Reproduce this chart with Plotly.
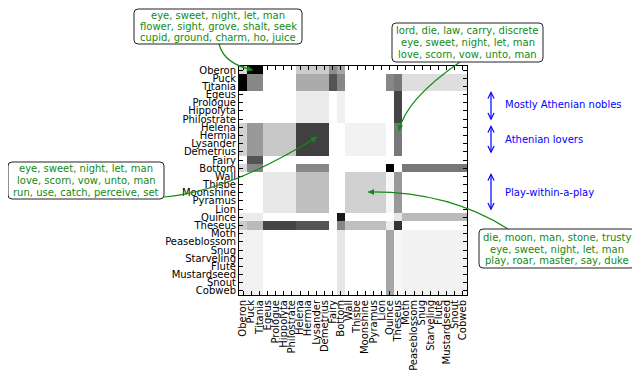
"""Character co-occurrence block matrix for A Midsummer Night's Dream,
with topic-word call-outs and group brackets."""

import numpy as np
import plotly.graph_objects as go

# ---------------------------------------------------------------------------
# Data
# ---------------------------------------------------------------------------

CHARACTERS = [
    "Oberon", "Puck", "Titania", "Egeus", "Prologue", "Hippolyta",
    "Philostrate", "Helena", "Hermia", "Lysander", "Demetrius", "Fairy",
    "Bottom", "Wall", "Thisbe", "Moonshine", "Pyramus", "Lion", "Quince",
    "Theseus", "Moth", "Peaseblossom", "Snug", "Starveling", "Flute",
    "Mustardseed", "Snout", "Cobweb",
]

# block each character belongs to (same order as CHARACTERS)
GROUP = [0, 1, 1, 2, 2, 2, 2, 3, 3, 3, 3, 4, 5, 6, 6, 6, 6, 6, 7, 8,
         9, 9, 9, 9, 9, 9, 9, 9]

# block-level shade, 0 = white, 1 = black (row block x column block)
BLOCK_SHADE = [
    [0.15, 1.00, 0.00, 0.20, 0.45, 0.35, 0.00, 0.00, 0.00, 0.00],
    [1.00, 0.47, 0.00, 0.33, 0.67, 0.47, 0.00, 0.47, 0.53, 0.13],
    [0.00, 0.00, 0.00, 0.08, 0.00, 0.06, 0.00, 0.00, 0.73, 0.00],
    [0.18, 0.40, 0.22, 0.75, 0.00, 0.00, 0.05, 0.00, 0.53, 0.00],
    [0.00, 0.67, 0.00, 0.00, 0.00, 0.00, 0.00, 0.00, 0.00, 0.00],
    [0.15, 0.47, 0.00, 0.47, 0.00, 0.00, 0.00, 1.00, 0.00, 0.53],
    [0.00, 0.00, 0.09, 0.25, 0.00, 0.00, 0.18, 0.03, 0.40, 0.00],
    [0.08, 0.08, 0.00, 0.00, 0.00, 0.90, 0.00, 0.00, 0.10, 0.27],
    [0.20, 0.27, 0.73, 0.67, 0.00, 0.47, 0.25, 0.07, 0.80, 0.00],
    [0.05, 0.05, 0.00, 0.00, 0.00, 0.10, 0.00, 0.35, 0.03, 0.05],
]

TOPIC_BOXES = [
    ["eye, sweet, night, let, man", "flower, sight, grove, shalt, seek",
     "cupid, ground, charm, ho, juice"],
    ["lord, die, law, carry, discrete", "eye, sweet, night, let, man",
     "love, scorn, vow, unto, man"],
    ["eye, sweet, night, let, man", "love, scorn, vow, unto, man",
     "run, use, catch, perceive, set"],
    ["die, moon, man, stone, trusty", "eye, sweet, night, let, man",
     "play, roar, master, say, duke"],
]

GROUP_LABELS = ["Mostly Athenian nobles", "Athenian lovers", "Play-within-a-play"]

# ---------------------------------------------------------------------------
# Layout helpers (page pixel -> paper); the page body adds an 8px offset
# ---------------------------------------------------------------------------

OFF = 8
W, H = 640 - OFF, 373 - OFF
ML, MR, MT, MB = 239 - OFF, 173, 66 - OFF, 78
FONT = "DejaVu Sans"
GREEN = "#138a13"


def paper(x, y):
    x, y = x - OFF, y - OFF
    return (x - ML) / (W - ML - MR), (H - MB - y) / (H - MT - MB)


def curve(p0, c, p1):
    (x0, y0), (cx, cy), (x1, y1) = paper(*p0), paper(*c), paper(*p1)
    return f"M {x0},{y0} Q {cx},{cy} {x1},{y1}"


def rounded_box(x0, y0, x1, y1, r=4):
    def p(x, y):
        a, b = paper(x, y)
        return f"{a},{b}"

    return (
        f"M {p(x0 + r, y0)} L {p(x1 - r, y0)} Q {p(x1, y0)} {p(x1, y0 + r)} "
        f"L {p(x1, y1 - r)} Q {p(x1, y1)} {p(x1 - r, y1)} "
        f"L {p(x0 + r, y1)} Q {p(x0, y1)} {p(x0, y1 - r)} "
        f"L {p(x0, y0 + r)} Q {p(x0, y0)} {p(x0 + r, y0)} Z"
    )


shade = np.array(BLOCK_SHADE)
grp = np.array(GROUP)
z = shade[np.ix_(grp, grp)]
idx = list(range(len(CHARACTERS)))

fig = go.Figure()

fig.add_trace(
    go.Heatmap(
        z=z,
        x=idx,
        y=idx,
        zmin=0,
        zmax=1,
        colorscale=[[0, "#ffffff"], [1, "#000000"]],
        showscale=False,
    )
)

axis_common = dict(
    tickmode="array",
    tickvals=idx,
    ticktext=CHARACTERS,
    showline=True,
    linecolor="black",
    linewidth=1,
    mirror="allticks",
    ticks="inside",
    ticklen=4,
    tickcolor="black",
    tickfont=dict(family=FONT, size=10, color="black"),
    showgrid=False,
    zeroline=False,
)

fig.update_xaxes(tickangle=-90, range=[-0.5, 27.5], **axis_common)
fig.update_yaxes(range=[27.5, -0.5], **axis_common)

# green topic call-outs: box (x0, y0, x1, y1), line y positions, arrow (start, control, head)
boxes = [
    ((134, 9, 302, 44), (15.0, 26.5, 38.0)),
    ((392, 23, 543, 62), (30.8, 42.8, 54.6)),
    ((8, 162, 164, 199), (168.8, 180.5, 192.2)),
    ((479, 229, 635, 268), (237.3, 249.0, 260.7)),
]
arrows = [
    ((219, 44), (224, 64), (253, 70)),
    ((460, 62), (405, 100), (399, 131)),
    ((164, 197), (228, 192), (317, 137)),
    ((508, 229), (448, 191), (368, 192)),
]

for p0, c, p1 in arrows:
    fig.add_shape(type="path", path=curve(p0, c, p1), xref="paper", yref="paper",
                  line=dict(color=GREEN, width=1.2))
    d = np.hypot(c[0] - p1[0], c[1] - p1[1])
    hx, hy = paper(*p1)
    fig.add_annotation(
        x=hx, y=hy, xref="paper", yref="paper", text="",
        showarrow=True, arrowhead=2, arrowsize=1, arrowwidth=1.2,
        arrowcolor=GREEN, standoff=0,
        ax=(c[0] - p1[0]) / d * 7, ay=(c[1] - p1[1]) / d * 7,
    )

for lines, ((x0, y0, x1, y1), line_y) in zip(TOPIC_BOXES, boxes):
    fig.add_shape(type="path", path=rounded_box(x0, y0, x1, y1),
                  xref="paper", yref="paper", fillcolor="white",
                  line=dict(color="#222222", width=1))
    for text, ly in zip(lines, line_y):
        tx, ty = paper((x0 + x1) / 2, ly)
        fig.add_annotation(
            x=tx, y=ty, xref="paper", yref="paper",
            xanchor="center", yanchor="middle",
            text=text, showarrow=False,
            font=dict(family=FONT, size=10, color=GREEN),
        )

# blue group brackets: (top, bottom) in pixels, label y
brackets = [(91, 122, 104), (125, 155, 139), (173, 212, 192)]
for label, (top, bot, ty) in zip(GROUP_LABELS, brackets):
    ax_, ay_ = paper(491, top)
    fig.add_annotation(
        x=ax_, y=ay_, xref="paper", yref="paper", text="",
        showarrow=True, arrowside="end+start", arrowhead=5, arrowsize=1,
        arrowwidth=1.2, arrowcolor="blue", standoff=0, startstandoff=0,
        ax=0, ay=bot - top,
    )
    tx, typ = paper(503, ty)
    fig.add_annotation(
        x=tx, y=typ, xref="paper", yref="paper", xanchor="left",
        yanchor="middle", text=label, showarrow=False,
        font=dict(family=FONT, size=10, color="blue"),
    )

fig.update_layout(
    width=W,
    height=H,
    autosize=False,
    margin=dict(l=ML, r=MR, t=MT, b=MB, autoexpand=False),
    paper_bgcolor="white",
    plot_bgcolor="white",
    showlegend=False,
)

fig.write_html("out.html")
